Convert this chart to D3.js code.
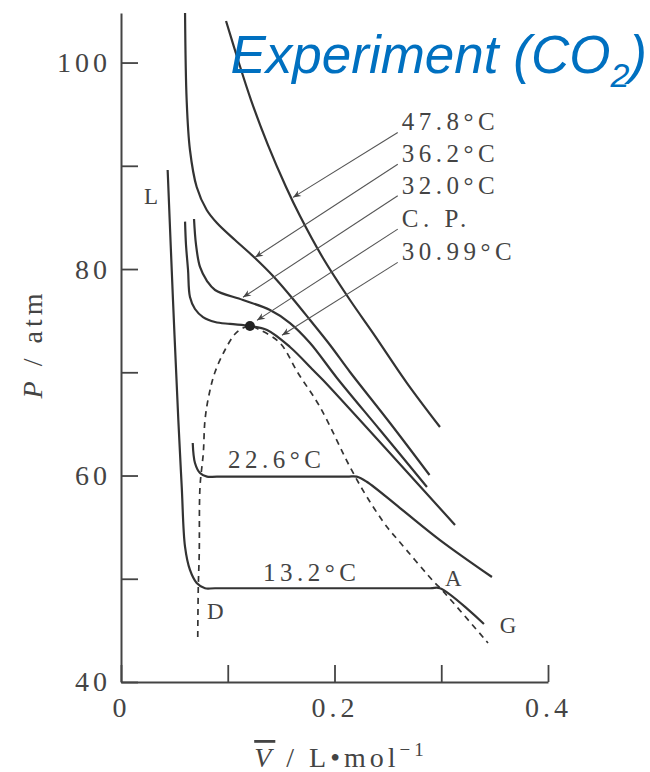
<!DOCTYPE html>
<html>
<head>
<meta charset="utf-8">
<script src="https://cdn.jsdelivr.net/npm/d3@7"></script>
<style>
    body { margin: 0; background: #fff; }
    svg { display: block; }
</style>
</head>
<body>
<svg id="chart" width="650" height="772"></svg>
<script>
// isotherms of CO2 (V in L/mol, P in atm)
let t132V = [0.0437, 0.0487, 0.0537, 0.0569, 0.0600, 0.0646, 0.0709, 0.0787, 0.0881, 0.2895, 0.2988, 0.3400]
let t132P = [89.59, 77.00, 65.38, 58.89, 53.08, 50.85, 49.59, 49.08, 49.08, 49.08, 49.08, 45.62]

let t226V = [0.0672, 0.0693, 0.0740, 0.0806, 0.0899, 0.2117, 0.2208, 0.2302, 0.2614, 0.2988, 0.3475]
let t226P = [63.15, 61.21, 60.24, 59.89, 59.89, 59.89, 59.89, 59.40, 56.85, 53.75, 50.17]

let t3099V = [0.0600, 0.0609, 0.0628, 0.0646, 0.0693, 0.0768, 0.0881, 0.1021, 0.1208, 0.1368, 0.1583, 0.1799, 0.1892, 0.3129]
let t3099P = [84.59, 82.33, 79.91, 77.29, 76.13, 75.35, 74.87, 74.68, 74.48, 74.10, 72.45, 70.22, 69.25, 55.21]

let t320V = [0.0684, 0.0703, 0.0740, 0.0806, 0.0881, 0.1143, 0.1396, 0.1583, 0.1771, 0.2023, 0.2426, 0.2866]
let t320P = [84.85, 82.33, 80.20, 78.84, 77.97, 77.00, 76.03, 74.77, 72.84, 69.45, 64.41, 58.89]

let t362V = [0.0600, 0.0615, 0.0646, 0.0709, 0.0803, 0.0899, 0.1068, 0.1255, 0.1433, 0.1611, 0.1771, 0.1958, 0.2145, 0.2520, 0.2890]
let t362P = [104.80, 96.37, 91.53, 87.95, 85.72, 84.46, 82.81, 81.07, 79.23, 77.10, 75.06, 72.64, 70.03, 65.09, 60.05]

let t478V = [0.0984, 0.1096, 0.1218, 0.1377, 0.1546, 0.1677, 0.1892, 0.2145, 0.2361, 0.2679, 0.2988]
let t478P = [104.03, 100.25, 96.37, 92.01, 87.95, 85.14, 81.07, 77.00, 73.80, 68.96, 64.70]

// two-phase boundary (dashed) and critical point
let domeV = [0.0719, 0.0724, 0.0733, 0.0740, 0.0771, 0.0787, 0.0824, 0.0881, 0.0974, 0.1068, 0.1143, 0.1208,
             0.1302, 0.1489, 0.1658, 0.1864, 0.2145, 0.2304, 0.2492, 0.2595, 0.2941, 0.2998, 0.3438]
let domeP = [44.36, 49.20, 52.49, 58.89, 62.18, 65.38, 67.80, 70.03, 72.16, 73.71, 74.29, 74.48,
             74.10, 72.84, 69.93, 66.64, 60.83, 57.92, 55.01, 53.75, 49.59, 49.01, 43.78]
let cpV = 0.1208
let cpP = 74.48

// ticks
let xTicks = [0, 0.1, 0.2, 0.3, 0.4]
let xTickText = ['0', '', '0.2', '', '0.4']
let yTicks = [40, 50, 60, 70, 80, 90, 100]
let yTickText = ['40', '', '60', '', '80', '', '100']

// arrow labels
let arrowText = ['47.8°C', '36.2°C', '32.0°C', 'C. P.', '30.99°C']
let arrowLabelV = [0.263, 0.263, 0.263, 0.263, 0.263]
let arrowLabelP = [93.42, 90.35, 87.29, 84.06, 80.84]
let arrowTipV = [0.1611, 0.1256, 0.1143, 0.1274, 0.1508]
let arrowTipP = [86.94, 81.13, 77.26, 75.03, 73.58]

// other labels on the plot
let markText = ['L', 'D', 'A', 'G', '22.6°C', '13.2°C']
let markV = [0.0215, 0.0806, 0.3034, 0.3548, 0.1003, 0.1330]
let markP = [86.26, 46.10, 49.29, 44.74, 60.71, 49.77]

let serif = '"Liberation Serif", "DejaVu Serif", serif'
let ink = '#333'

let svg = d3.select('#chart')

let x = d3.scaleLinear().domain([0, 0.4]).range([121, 548])
let y = d3.scaleLinear().domain([40, 104.8]).range([682, 13])

// arrow head
svg.append('defs').append('marker')
    .attr('id', 'head')
    .attr('viewBox', '0 0 10 10')
    .attr('refX', 10)
    .attr('refY', 5)
    .attr('markerWidth', 11)
    .attr('markerHeight', 8)
    .attr('markerUnits', 'userSpaceOnUse')
    .attr('orient', 'auto')
    .append('path')
    .attr('d', 'M0,1 L10,5 L0,9 L3,5 z')
    .attr('fill', '#444')

// axes
let xAxis = svg.append('g')
    .attr('transform', 'translate(0,' + y(40) + ')')
    .call(d3.axisBottom(x)
        .tickValues(xTicks)
        .tickSize(-17)
        .tickSizeOuter(0)
        .tickPadding(15)
        .tickFormat((d, i) => xTickText[i]))

let yAxis = svg.append('g')
    .attr('transform', 'translate(' + x(0) + ',0)')
    .call(d3.axisLeft(y)
        .tickValues(yTicks)
        .tickSize(-17)
        .tickSizeOuter(0)
        .tickPadding(10)
        .tickFormat((d, i) => yTickText[i]))

;[xAxis, yAxis].forEach(ax => {
    ax.select('.domain').attr('stroke', '#444').attr('stroke-width', 2)
    ax.selectAll('.tick line').attr('stroke', '#444').attr('stroke-width', 1.8)
    ax.selectAll('.tick text')
        .style('font-family', serif)
        .style('font-size', '28px')
        .style('letter-spacing', '4px')
        .attr('fill', '#444')
})

// axis titles
svg.append('text')
    .attr('transform', 'translate(42,344) rotate(-90)')
    .attr('text-anchor', 'middle')
    .style('font-family', serif)
    .style('font-size', '28px')
    .style('letter-spacing', '4px')
    .attr('fill', '#444')
    .call(t => {
        t.append('tspan').style('font-style', 'italic').text('P')
        t.append('tspan').text(' / atm')
    })

svg.append('text')
    .attr('x', 341)
    .attr('y', 767)
    .attr('text-anchor', 'middle')
    .style('font-family', serif)
    .style('font-size', '28px')
    .style('letter-spacing', '4px')
    .attr('fill', '#444')
    .call(t => {
        t.append('tspan').style('font-style', 'italic').style('text-decoration', 'overline').text('V')
        t.append('tspan').text(' / L\u2022mol')
        t.append('tspan').attr('dy', -11).style('font-size', '19px').text('\u22121')
    })

// isotherms
let line = d3.line()
    .x(d => x(d[0]))
    .y(d => y(d[1]))
    .curve(d3.curveCatmullRom.alpha(0.5))

let series = [[t132V, t132P], [t226V, t226P], [t3099V, t3099P], [t320V, t320P], [t362V, t362P], [t478V, t478P]]

svg.append('g')
    .selectAll('path')
    .data(series)
    .enter()
    .append('path')
    .attr('d', s => line(s[0].map((v, i) => [v, s[1][i]])))
    .attr('fill', 'none')
    .attr('stroke', ink)
    .attr('stroke-width', 2.2)

// dashed boundary
svg.append('path')
    .attr('d', line(domeV.map((v, i) => [v, domeP[i]])))
    .attr('fill', 'none')
    .attr('stroke', ink)
    .attr('stroke-width', 1.7)
    .attr('stroke-dasharray', '6,5')

svg.append('circle')
    .attr('cx', x(cpV))
    .attr('cy', y(cpP))
    .attr('r', 5)
    .attr('fill', '#222')

// arrows with labels
arrowText.forEach((txt, i) => {
    svg.append('line')
        .attr('x1', x(arrowLabelV[i]) - 4)
        .attr('y1', y(arrowLabelP[i]) + 2)
        .attr('x2', x(arrowTipV[i]))
        .attr('y2', y(arrowTipP[i]))
        .attr('stroke', '#555')
        .attr('stroke-width', 1.1)
        .attr('marker-end', 'url(#head)')

    svg.append('text')
        .attr('x', x(arrowLabelV[i]))
        .attr('y', y(arrowLabelP[i]))
        .style('font-family', serif)
        .style('font-size', '25px')
        .style('letter-spacing', '4.5px')
        .attr('fill', '#444')
        .text(txt)
})

svg.append('g')
    .selectAll('text')
    .data(markText)
    .enter()
    .append('text')
    .attr('x', (d, i) => x(markV[i]))
    .attr('y', (d, i) => y(markP[i]))
    .style('font-family', serif)
    .style('font-size', d => d.length > 1 ? '25px' : '23px')
    .style('letter-spacing', d => d.length > 1 ? '4.5px' : '0px')
    .attr('fill', '#444')
    .text(d => d)

// title
svg.append('text')
    .attr('x', 647)
    .attr('y', 73)
    .attr('text-anchor', 'end')
    .style('font-family', '"Liberation Sans", Arial, sans-serif')
    .style('font-style', 'italic')
    .style('font-size', '53px')
    .attr('fill', '#0070C0')
    .call(t => {
        t.append('tspan').text('Experiment (CO')
        t.append('tspan').attr('dy', 14).style('font-size', '34px').text('2')
        t.append('tspan').attr('dy', -14).text(')')
    })
</script>
</body>
</html>
